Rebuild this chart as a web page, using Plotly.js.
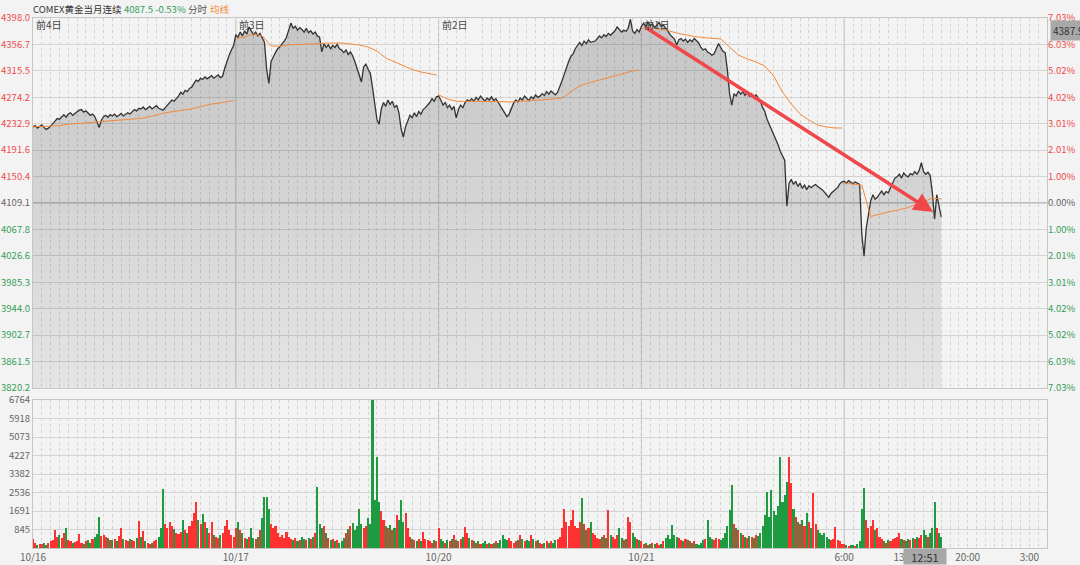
<!DOCTYPE html>
<html><head><meta charset="utf-8">
<script src="https://cdn.plot.ly/plotly-3.0.1.min.js"></script>
<style>html,body{margin:0;padding:0;background:#f3f3f3;}#chart{width:1080px;height:565px;}</style>
</head><body><div id="chart"></div>
<script>
// ---------- data ----------
const title = 'COMEX黄金当月连续';
const lastQuote = '4087.5 -0.53%';
const dayLabels = ['前4日', '前3日', '前2日', '前1日'];
const xTickLabels = ['10/16', '10/17', '10/20', '10/21', '6:00', '13:00', '20:00', '3:00'];
const xTickMinutes = [0, 1380, 2760, 4140, 5520, 5940, 6360, 6780];
const priceTicks = [4398.0, 4356.7, 4315.5, 4274.2, 4232.9, 4191.6, 4150.4, 4109.1, 4067.8, 4026.6, 3985.3, 3944.0, 3902.7, 3861.5, 3820.2];
const pctLabels = ['7.03%', '6.03%', '5.02%', '4.02%', '3.01%', '2.01%', '1.00%', '0.00%', '1.00%', '2.01%', '3.01%', '4.02%', '5.02%', '6.03%', '7.03%'];
const prevClose = 4109.1;
const volTicks = [845, 1691, 2536, 3382, 4227, 5073, 5918, 6764];
const cursorTime = '12:51';
const cursorPrice = '4387.9';

// price, one value per 15 minutes
const priceDay1 = [4228,4230,4226,4229,4231,4227,4224,4226,
 4229,4233,4237,4241,4240,
 4244,4247,4243,4248,4250,4246,4249,4252,4254,
 4255,4251,4253,4249,4246,4248,4244,
 4236,4227,
 4238,4244,
 4246,4243,4247,4245,4248,4244,4246,4249,4245,4247,4250,4248,
 4252,4255,4253,4257,
 4256,4259,4255,4258,4260,4256,4258,4261,4257,4255,4254,
 4258,4262,4266,4270,4268,4272,
 4276,4282,4279,4285,4283,4288,4290,
 4296,4301,4299,4304,4302,4306,4303,4305,4308,4304,4306,4309,4305,4307,
 4320,4332,4340,4348,4355];
const priceDay2 = [4372,
 4368,4376,4370,4378,4373,4384,4378,4372,4376,4370,4374,
 4366,4360,
 4318,4296,
 4330,4338,4344,4350,4353,
 4358,4362,4368,
 4380,4390,4382,4385,4379,4383,
 4380,4376,4382,4375,4378,4373,
 4376,4370,4368,
 4345,
 4358,4352,4356,4350,4355,
 4352,4357,4350,4348,
 4344,4348,4341,4345,4339,
 4330,4318,4310,
 4298,4322,4326,
 4318,4312,
 4290,4262,4240,4232,
 4256,4266,4260,4270,4263,4268,4258,4262,4250,
 4225,4212,4228,
 4238,4246,4242,4250,4244,4252,4248,4255,4258,4262,4266,
 4272,4268,4275];
const priceDay3 = [4276,
 4270,4262,4266,4258,4262,4255,4260,
 4242,
 4255,4262,4258,4266,4270,4268,
 4272,4268,4274,4270,4276,4271,4268,4273,4270,4275,4269,4272,4266,
 4262,4255,4250,4244,4248,4258,
 4265,4270,4267,4273,4270,4276,4272,4269,4275,4272,4278,4274,
 4276,4280,4277,4283,4279,4284,4281,4278,
 4282,4290,4300,4310,4322,4330,4338,4342,
 4350,4356,4360,4355,4362,4358,4364,4360,4361,
 4362,4366,4370,4367,4372,4369,4374,4371,
 4374,4378,4384,4380,4376,4379,4377,4382,
 4396,
 4378,4374,4380,4376];
const priceDay4 = [4385,4390,4384,4392,4386,4389,4383,4388,4391,4385,4387,4382,
 4378,4372,4368,
 4365,4356,4364,
 4366,4362,4365,4360,4364,4361,4366,4362,4359,
 4352,4348,4350,4345,4343,
 4340,4342,
 4350,4358,
 4352,4346,4344,
 4317,
 4280,4262,
 4280,4276,4284,4279,4283,4277,4281,4276,4280,4274,4278,4272,
 4268,4258,4252,
 4240,4232,4225,4218,
 4208,4200,4190,4182,4176,
 4104,
 4140,4146,4138,4143,
 4135,4140,4132,4137,4130,4136,4133,
 4136,4138,4135,4133,4130,4126,4121,4118,4124,4127,4129,4133,4139,4142];
const priceDay5 = [4143,4140,4144,4141,4139,4142,4140,4138,
 4060,4026,4070,4090,
 4112,4122,4115,4118,
 4124,4128,4122,4127,4125,
 4132,4140,4148,
 4150,4154,4148,4156,4152,4150,4155,4153,4158,4154,4160,
 4172,
 4158,4154,4157,4152,
 4125,4084,4122,4102,4087.5];

// average price line, one value per hour (last value = end of the series)
const avgDay1 = [4228,4228.5,4229,4230,4232,4233,4234,4235,4236.5,4237.5,4239,4240,4241,4243,4247,4250,4252,4254,4256,4259.5,4263,4265,4267.5,4269];
const avgDay2 = [4366,4368.3,4373,4370,4354.3,4354,4356,4356.6,4357.4,4358,4359,4359,4359,4357.4,4355.8,4352.7,4346.5,4335.5,4329.3,4323,4317.6,4313.7,4310.6,4309];
const avgDay3 = [4278,4271.5,4268,4267.6,4267.6,4267.6,4267.6,4267.6,4266.8,4267.6,4268.4,4269.2,4270,4271.5,4273,4282.4,4291.8,4296.5,4300.4,4304.3,4308.2,4312,4315.2,4316.8];
const avgDay4 = [4382.4,4382.4,4380.8,4378.5,4374.6,4371.5,4369,4367.5,4366.8,4365.2,4352.7,4340.2,4334,4329.3,4323,4307.4,4282.4,4263.7,4248.1,4238.7,4230.9,4227.8,4226.2,4226.2];
const avgDay5 = [4140.3,4138.8,4137,4088,4092,4095,4098,4101,4106,4110.7,4117,4115.4];

// volume, one value per 15 minutes
const volDay1 = [400,250,150,200,180,220,160,250,300,350,
 820,500,600,450,700,900,350,300,250,280,
 320,650,250,200,300,350,250,400,500,650,
 1430,550,600,500,450,380,350,400,300,550,
 900,400,350,300,400,350,300,450,1250,500,
 780,300,250,200,250,300,350,500,900,2700,
 1100,900,1200,1000,850,700,650,750,1300,800,
 700,1000,1250,1600,2100,1300,1100,1550,1200,900,
 700,1200,600,500,450,600,700,1000,1300,800,
 600,500];
const volDay2 = [900,1200,800,700,450,400,500,900,450,400,
 500,800,1350,2350,2350,1800,1100,900,1000,700,
 500,600,450,750,500,400,350,450,300,350,
 500,400,350,450,400,500,700,2800,1100,900,
 1000,700,450,350,400,300,350,250,300,450,
 700,850,1000,1150,800,1000,1800,1100,900,1000,
 1350,1100,6760,2200,4170,2100,1700,1300,1000,900,
 1050,800,900,1500,1300,2190,1200,1580,900,500,
 400,350,300,400,300,750,400,350,300,250,
 350,300];
const volDay3 = [900,400,300,250,350,300,400,600,350,300,
 400,500,970,700,450,350,300,250,300,200,
 250,300,200,250,180,220,300,250,350,600,
 400,350,450,300,250,300,350,600,400,300,
 350,300,600,400,300,350,250,200,250,300,
 250,300,250,350,400,500,900,1800,1200,1000,
 1300,1740,1000,900,1200,2270,1100,800,900,1200,
 700,600,450,400,500,600,450,1740,600,500,
 400,600,900,450,350,400,1430,1200,700,500,
 400,350];
const volDay4 = [300,200,250,150,200,250,180,220,150,200,
 300,450,600,400,1050,600,500,450,350,300,
 400,350,300,250,300,200,150,250,350,400,
 1280,500,400,350,450,400,350,450,700,1000,
 1740,2880,1100,900,800,700,600,500,450,550,
 500,450,600,550,700,1000,1500,2570,1400,2650,
 1700,1500,1900,4170,2100,2400,3030,4170,2950,1800,
 1400,1200,1100,1300,1000,1580,1200,900,2500,1100,
 800,700,600,700,500,400,350,400,970,350,
 300,200];
const volDay5 = [200,120,100,150,120,100,180,300,1800,2730,
 1300,900,1000,1300,800,900,500,400,300,250,
 350,300,400,450,500,670,400,350,300,400,
 350,450,400,500,450,600,820,600,500,700,
 900,2120,900,700,500];

// ---------- build ----------
const STEP = 15, DAY = 1380, NDAYS = 5;
const priceDays = [priceDay1, priceDay2, priceDay3, priceDay4, priceDay5];
const avgDays = [avgDay1, avgDay2, avgDay3, avgDay4, avgDay5];
const volDays = [volDay1, volDay2, volDay3, volDay4, volDay5];

const NEUTRAL = '#666';
let px = [], py = [], vx = [], vy = [], vc = [];
priceDays.forEach((arr, d) => arr.forEach((v, i) => { px.push(d * DAY + i * STEP); py.push(v); }));
volDays.forEach((arr, d) => arr.forEach((v, i) => { vx.push(d * DAY + i * STEP); vy.push(v); }));
for (let j = 0; j < vy.length; j++) {
  const up = j === 0 ? true : py[j] >= py[j - 1];
  vc.push(up ? '#ff3030' : '#1e9a40');
}
let ax = [], ay = [];
avgDays.forEach((arr, d) => {
  const lastMin = (priceDays[d].length - 1) * STEP;
  arr.forEach((v, k) => { ax.push(d * DAY + (k < arr.length - 1 ? k * 60 : lastMin)); ay.push(v); });
  ax.push(null); ay.push(null);
});
const lastX = px[px.length - 1];

const colorFor = v => v > prevClose + 0.01 ? '#ef4b4b' : (v < prevClose - 0.01 ? '#35a05a' : NEUTRAL);
const priceText = priceTicks.map(v => `<span style="color:${colorFor(v)}">${v.toFixed(1)}</span>`);
const pctText = pctLabels.map((t, i) => `<span style="color:${colorFor(priceTicks[i])}">${t}</span>`);

const FONT = '"Noto Sans CJK SC","Noto Sans",sans-serif';
const traces = [
  { x: px, y: py, type: 'scatter', mode: 'lines', xaxis: 'x', yaxis: 'y',
    line: { color: '#333333', width: 1.3 }, fill: 'tozeroy',
    fillgradient: { type: 'vertical', start: 3820.2, stop: 4398,
      colorscale: [[0, 'rgba(0,0,0,0.06)'], [1, 'rgba(0,0,0,0.19)']] } },
  { x: ax, y: ay, type: 'scatter', mode: 'lines', xaxis: 'x', yaxis: 'y', connectgaps: false,
    line: { color: '#f28a3e', width: 1 } },
  { x: [0], y: [prevClose], type: 'scatter', mode: 'none', xaxis: 'x', yaxis: 'y3', showlegend: false },
  { x: vx, y: vy, type: 'bar', xaxis: 'x2', yaxis: 'y2', width: 14,
    marker: { color: vc, line: { width: 0 } } }
];

const minorGrid = { tickmode: 'linear', tick0: 0, dtick: 60, showgrid: true, gridcolor: '#d3d3d3', griddash: 'dot', gridwidth: 1, ticks: '' };
const shapes = [];
for (let d = 1; d < NDAYS; d++) {
  shapes.push({ type: 'line', xref: 'x', yref: 'y domain', x0: d * DAY, x1: d * DAY, y0: 0, y1: 1, line: { color: '#bcbcbc', width: 1 }, layer: 'below' });
  shapes.push({ type: 'line', xref: 'x2', yref: 'y2 domain', x0: d * DAY, x1: d * DAY, y0: 0, y1: 1, line: { color: '#bcbcbc', width: 1 }, layer: 'below' });
}
shapes.push({ type: 'line', xref: 'x domain', yref: 'y', x0: 0, x1: 1, y0: prevClose, y1: prevClose, line: { color: '#a9a9a9', width: 1.5 }, layer: 'below' });

const pxToPaperY = Y => (548 - Y) / 530;
const pxToPaperX = X => (X - 33) / 1014;
const annotations = [
  { text: title, xref: 'paper', yref: 'paper', x: pxToPaperX(31), y: pxToPaperY(9), xanchor: 'left', yanchor: 'middle', showarrow: false, font: { size: 9.5, color: '#333', family: FONT } },
  { text: lastQuote, xref: 'paper', yref: 'paper', x: pxToPaperX(122), y: pxToPaperY(9), xanchor: 'left', yanchor: 'middle', showarrow: false, font: { size: 9.5, color: '#2f9d58', family: FONT } },
  { text: '分时', xref: 'paper', yref: 'paper', x: pxToPaperX(186), y: pxToPaperY(9), xanchor: 'left', yanchor: 'middle', showarrow: false, font: { size: 9.5, color: '#555', family: FONT } },
  { text: '均线', xref: 'paper', yref: 'paper', x: pxToPaperX(208), y: pxToPaperY(9), xanchor: 'left', yanchor: 'middle', showarrow: false, font: { size: 9.5, color: '#f08a3c', family: FONT } },
  { text: cursorPrice, xref: 'paper', yref: 'paper', x: 1.003, y: pxToPaperY(31), xanchor: 'left', yanchor: 'middle', showarrow: false, bgcolor: '#a8a8a8', borderpad: 2, font: { size: 10, color: '#333', family: FONT } },
  { text: cursorTime, xref: 'x2', yref: 'paper', x: lastX, xshift: 6, y: pxToPaperY(556), xanchor: 'right', yanchor: 'middle', showarrow: false, bgcolor: '#a8a8a8', borderpad: 1, width: 40, height: 13, align: 'center', font: { size: 11, color: '#333', family: FONT } },
  { text: '', xref: 'x', yref: 'y', x: lastX - 55, y: 4095, axref: 'x', ayref: 'y', ax: 4165, ay: 4384,
    showarrow: true, arrowhead: 2, arrowsize: 1.1, arrowwidth: 3.5, arrowcolor: '#f0474b', standoff: 0 }
];
dayLabels.forEach((t, d) => annotations.push({ text: t, xref: 'x', yref: 'paper', x: d * DAY, xshift: 1, y: pxToPaperY(24), xanchor: 'left', yanchor: 'middle', showarrow: false, font: { size: 10, color: '#444', family: FONT } }));

const layout = {
  width: 1080, height: 565,
  margin: { l: 33, r: 33, t: 18, b: 17 },
  paper_bgcolor: '#f3f3f3', plot_bgcolor: '#f3f3f3',
  showlegend: false, hovermode: false, bargap: 0,
  font: { family: FONT, size: 10, color: '#666' },
  xaxis: { anchor: 'y', domain: [0, 1], range: [0, NDAYS * DAY], showticklabels: false, ticks: '', showgrid: false, zeroline: false,
    showline: true, mirror: true, linecolor: '#c6c6c6', minor: minorGrid },
  yaxis: { domain: [0.3019, 1], range: [3820.2, 4398.0], tickmode: 'array', tickvals: priceTicks, ticktext: priceText,
    showgrid: true, gridcolor: '#d4d4d4', zeroline: false, showline: true, mirror: true, linecolor: '#c6c6c6', ticks: '',
    automargin: false, tickfont: { size: 9.5, family: FONT } },
  yaxis3: { overlaying: 'y', side: 'right', anchor: 'x', range: [3820.2, 4398.0], tickmode: 'array', tickvals: priceTicks, ticktext: pctText,
    showgrid: false, zeroline: false, ticks: '', automargin: false, tickfont: { size: 9.5, family: FONT } },
  xaxis2: { anchor: 'y2', domain: [0, 1], matches: 'x', range: [0, NDAYS * DAY], tickmode: 'array', tickvals: xTickMinutes, ticktext: xTickLabels,
    showgrid: false, zeroline: false, showline: true, mirror: true, linecolor: '#c6c6c6', ticks: '', minor: minorGrid,
    tickfont: { size: 10, color: '#666', family: FONT }, automargin: false },
  yaxis2: { domain: [0, 0.2792], range: [0, 6764], tickmode: 'array', tickvals: volTicks, ticktext: volTicks.map(String),
    showgrid: true, gridcolor: '#d4d4d4', zeroline: false, showline: true, mirror: true, linecolor: '#c6c6c6', ticks: '',
    automargin: false, tickfont: { size: 9.5, color: '#666', family: FONT } },
  shapes: shapes,
  annotations: annotations
};
Plotly.newPlot('chart', traces, layout, { displayModeBar: false, staticPlot: true });
</script>
</body></html>
